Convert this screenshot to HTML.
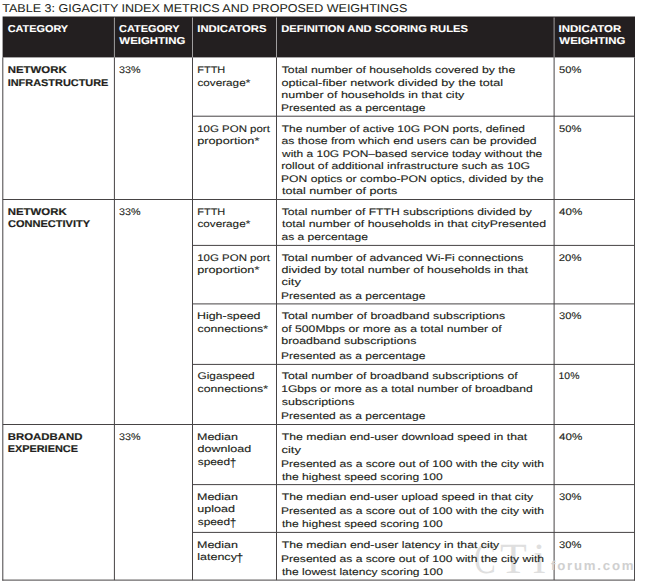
<!DOCTYPE html>
<html lang="en"><head><meta charset="utf-8"><title>Table 3: Gigacity Index metrics and proposed weightings</title>
<style>
html,body{margin:0;padding:0;background:#fff;}
body{width:650px;height:588px;position:relative;overflow:hidden;font-family:"Liberation Sans",sans-serif;color:#231f20;}
.b{position:absolute;}
.t{position:absolute;display:block;white-space:nowrap;line-height:normal;transform-origin:0 0;text-rendering:geometricPrecision;}
.title{font-size:11.3px;-webkit-text-stroke:0.05px #231f20;}
.hd{font-size:9.9px;font-weight:bold;color:#fff;-webkit-text-stroke:0.1px #fff;}
.cat{font-size:9.8px;font-weight:bold;-webkit-text-stroke:0.18px #231f20;}
.tx{font-size:9.6px;-webkit-text-stroke:0.12px #231f20;}
.dg{display:inline-block;font-size:12.4px;line-height:0;vertical-align:-2.2px;transform:scaleX(.78);transform-origin:0 50%;margin-right:-1.6px;}
.wm{position:absolute;white-space:nowrap;line-height:normal;transform-origin:0 0;text-rendering:geometricPrecision;}
</style></head>
<body>
<div class="b" style="left:2px;top:57px;width:1px;height:1px;background:rgba(70,67,68,0.42)"></div>
<div class="b" style="left:2px;top:58px;width:1px;height:522px;background:rgba(70,67,68,0.70)"></div>
<div class="b" style="left:2px;top:580px;width:1px;height:1px;background:rgba(70,67,68,0.42)"></div>
<div class="b" style="left:3px;top:57px;width:1px;height:1px;background:rgba(70,67,68,0.18)"></div>
<div class="b" style="left:3px;top:58px;width:1px;height:522px;background:rgba(70,67,68,0.30)"></div>
<div class="b" style="left:3px;top:580px;width:1px;height:1px;background:rgba(70,67,68,0.18)"></div>
<div class="b" style="left:634px;top:57px;width:1px;height:1px;background:rgba(70,67,68,0.57)"></div>
<div class="b" style="left:634px;top:58px;width:1px;height:522px;background:rgba(70,67,68,0.95)"></div>
<div class="b" style="left:634px;top:580px;width:1px;height:1px;background:rgba(70,67,68,0.57)"></div>
<div class="b" style="left:113px;top:58px;width:1px;height:522px;background:rgba(70,67,68,0.10)"></div>
<div class="b" style="left:114px;top:57px;width:1px;height:1px;background:rgba(70,67,68,0.54)"></div>
<div class="b" style="left:114px;top:58px;width:1px;height:522px;background:rgba(70,67,68,0.90)"></div>
<div class="b" style="left:114px;top:580px;width:1px;height:1px;background:rgba(70,67,68,0.09)"></div>
<div class="b" style="left:192px;top:57px;width:1px;height:1px;background:rgba(70,67,68,0.60)"></div>
<div class="b" style="left:192px;top:58px;width:1px;height:522px;background:rgb(70,67,68)"></div>
<div class="b" style="left:192px;top:580px;width:1px;height:1px;background:rgba(70,67,68,0.10)"></div>
<div class="b" style="left:276px;top:57px;width:1px;height:1px;background:rgba(70,67,68,0.60)"></div>
<div class="b" style="left:276px;top:58px;width:1px;height:522px;background:rgb(70,67,68)"></div>
<div class="b" style="left:276px;top:580px;width:1px;height:1px;background:rgba(70,67,68,0.10)"></div>
<div class="b" style="left:553px;top:57px;width:1px;height:1px;background:rgba(70,67,68,0.24)"></div>
<div class="b" style="left:553px;top:58px;width:1px;height:522px;background:rgba(70,67,68,0.40)"></div>
<div class="b" style="left:554px;top:57px;width:1px;height:1px;background:rgba(70,67,68,0.36)"></div>
<div class="b" style="left:554px;top:58px;width:1px;height:522px;background:rgba(70,67,68,0.60)"></div>
<div class="b" style="left:554px;top:580px;width:1px;height:1px;background:rgba(70,67,68,0.06)"></div>
<div class="b" style="left:2px;top:579px;width:1px;height:1px;background:rgba(70,67,68,0.28)"></div>
<div class="b" style="left:2px;top:580px;width:1px;height:1px;background:rgba(70,67,68,0.42)"></div>
<div class="b" style="left:3px;top:579px;width:631px;height:1px;background:rgba(70,67,68,0.40)"></div>
<div class="b" style="left:3px;top:580px;width:631px;height:1px;background:rgba(70,67,68,0.60)"></div>
<div class="b" style="left:634px;top:579px;width:1px;height:1px;background:rgba(70,67,68,0.38)"></div>
<div class="b" style="left:634px;top:580px;width:1px;height:1px;background:rgba(70,67,68,0.57)"></div>
<div class="b" style="left:192px;top:115px;width:1px;height:1px;background:rgba(70,67,68,0.15)"></div>
<div class="b" style="left:192px;top:116px;width:1px;height:1px;background:rgba(70,67,68,0.35)"></div>
<div class="b" style="left:193px;top:115px;width:441px;height:1px;background:rgba(70,67,68,0.30)"></div>
<div class="b" style="left:193px;top:116px;width:441px;height:1px;background:rgba(70,67,68,0.70)"></div>
<div class="b" style="left:634px;top:115px;width:1px;height:1px;background:rgba(70,67,68,0.14)"></div>
<div class="b" style="left:634px;top:116px;width:1px;height:1px;background:rgba(70,67,68,0.32)"></div>
<div class="b" style="left:2px;top:199px;width:1px;height:1px;background:rgba(70,67,68,0.20)"></div>
<div class="b" style="left:3px;top:199px;width:631px;height:1px;background:rgb(70,67,68)"></div>
<div class="b" style="left:634px;top:199px;width:1px;height:1px;background:rgba(70,67,68,0.45)"></div>
<div class="b" style="left:192px;top:245px;width:1px;height:1px;background:rgba(70,67,68,0.45)"></div>
<div class="b" style="left:193px;top:244px;width:441px;height:1px;background:rgba(70,67,68,0.10)"></div>
<div class="b" style="left:193px;top:245px;width:441px;height:1px;background:rgba(70,67,68,0.90)"></div>
<div class="b" style="left:634px;top:245px;width:1px;height:1px;background:rgba(70,67,68,0.41)"></div>
<div class="b" style="left:192px;top:303px;width:1px;height:1px;background:rgba(70,67,68,0.30)"></div>
<div class="b" style="left:192px;top:304px;width:1px;height:1px;background:rgba(70,67,68,0.20)"></div>
<div class="b" style="left:193px;top:303px;width:441px;height:1px;background:rgba(70,67,68,0.60)"></div>
<div class="b" style="left:193px;top:304px;width:441px;height:1px;background:rgba(70,67,68,0.40)"></div>
<div class="b" style="left:634px;top:303px;width:1px;height:1px;background:rgba(70,67,68,0.27)"></div>
<div class="b" style="left:634px;top:304px;width:1px;height:1px;background:rgba(70,67,68,0.18)"></div>
<div class="b" style="left:192px;top:364px;width:1px;height:1px;background:rgba(70,67,68,0.45)"></div>
<div class="b" style="left:193px;top:363px;width:441px;height:1px;background:rgba(70,67,68,0.10)"></div>
<div class="b" style="left:193px;top:364px;width:441px;height:1px;background:rgba(70,67,68,0.90)"></div>
<div class="b" style="left:634px;top:364px;width:1px;height:1px;background:rgba(70,67,68,0.41)"></div>
<div class="b" style="left:2px;top:424px;width:1px;height:1px;background:rgba(70,67,68,0.20)"></div>
<div class="b" style="left:3px;top:424px;width:631px;height:1px;background:rgb(70,67,68)"></div>
<div class="b" style="left:634px;top:424px;width:1px;height:1px;background:rgba(70,67,68,0.45)"></div>
<div class="b" style="left:192px;top:484px;width:1px;height:1px;background:rgba(70,67,68,0.45)"></div>
<div class="b" style="left:193px;top:484px;width:441px;height:1px;background:rgba(70,67,68,0.90)"></div>
<div class="b" style="left:193px;top:485px;width:441px;height:1px;background:rgba(70,67,68,0.10)"></div>
<div class="b" style="left:634px;top:484px;width:1px;height:1px;background:rgba(70,67,68,0.41)"></div>
<div class="b" style="left:192px;top:532px;width:1px;height:1px;background:rgba(70,67,68,0.45)"></div>
<div class="b" style="left:193px;top:531px;width:441px;height:1px;background:rgba(70,67,68,0.10)"></div>
<div class="b" style="left:193px;top:532px;width:441px;height:1px;background:rgba(70,67,68,0.90)"></div>
<div class="b" style="left:634px;top:532px;width:1px;height:1px;background:rgba(70,67,68,0.41)"></div>
<div class="b" style="left:2px;top:16px;width:1px;height:1px;background:rgba(35,31,32,0.20)"></div>
<div class="b" style="left:2px;top:17px;width:1px;height:40px;background:rgba(35,31,32,0.40)"></div>
<div class="b" style="left:2px;top:57px;width:1px;height:1px;background:rgba(35,31,32,0.16)"></div>
<div class="b" style="left:3px;top:16px;width:632px;height:1px;background:rgba(35,31,32,0.50)"></div>
<div class="b" style="left:3px;top:17px;width:632px;height:40px;background:rgb(35,31,32)"></div>
<div class="b" style="left:3px;top:57px;width:632px;height:1px;background:rgba(35,31,32,0.40)"></div>
<div class="b" style="left:113px;top:18px;width:1px;height:39px;background:rgba(160,158,159,0.10)"></div>
<div class="b" style="left:114px;top:17px;width:1px;height:1px;background:rgba(160,158,159,0.45)"></div>
<div class="b" style="left:114px;top:18px;width:1px;height:39px;background:rgba(160,158,159,0.90)"></div>
<div class="b" style="left:114px;top:57px;width:1px;height:1px;background:rgba(160,158,159,0.36)"></div>
<div class="b" style="left:192px;top:17px;width:1px;height:1px;background:rgba(160,158,159,0.50)"></div>
<div class="b" style="left:192px;top:18px;width:1px;height:39px;background:rgb(160,158,159)"></div>
<div class="b" style="left:192px;top:57px;width:1px;height:1px;background:rgba(160,158,159,0.40)"></div>
<div class="b" style="left:276px;top:17px;width:1px;height:1px;background:rgba(160,158,159,0.50)"></div>
<div class="b" style="left:276px;top:18px;width:1px;height:39px;background:rgb(160,158,159)"></div>
<div class="b" style="left:276px;top:57px;width:1px;height:1px;background:rgba(160,158,159,0.40)"></div>
<div class="b" style="left:553px;top:17px;width:1px;height:1px;background:rgba(160,158,159,0.20)"></div>
<div class="b" style="left:553px;top:18px;width:1px;height:39px;background:rgba(160,158,159,0.40)"></div>
<div class="b" style="left:553px;top:57px;width:1px;height:1px;background:rgba(160,158,159,0.16)"></div>
<div class="b" style="left:554px;top:17px;width:1px;height:1px;background:rgba(160,158,159,0.30)"></div>
<div class="b" style="left:554px;top:18px;width:1px;height:39px;background:rgba(160,158,159,0.60)"></div>
<div class="b" style="left:554px;top:57px;width:1px;height:1px;background:rgba(160,158,159,0.24)"></div>
<span class="wm" style="font-family:'Liberation Serif',serif;font-size:43px;color:#dfdfdf;top:535px;left:474px;transform:scaleX(.76)">C</span>
<span class="wm" style="font-family:'Liberation Serif',serif;font-size:43px;color:#dfdfdf;top:535px;left:500px;transform:scaleX(1.02)">T</span>
<span class="wm" style="font-family:'Liberation Serif',serif;font-size:43px;color:#dfdfdf;top:535px;left:533px;transform:scaleX(1.05)">i</span>
<span class="wm" style="left:551px;top:558px;font-size:13.2px;font-weight:bold;letter-spacing:1.8px;color:#d0d0d0;">forum.com</span>
<span class="t title" style="left:2px;top:3px;transform:translateX(0.30px) scaleX(1.1082)">TABLE 3: GIGACITY INDEX METRICS AND PROPOSED WEIGHTINGS</span>
<span class="t hd" style="left:7px;top:24px;transform:translateX(0.65px) scaleX(1.1025)">CATEGORY</span>
<span class="t hd" style="left:119px;top:24px;transform:translateX(0.10px) scaleX(1.1025)">CATEGORY</span>
<span class="t hd" style="left:119px;top:36px;transform:translateX(0.35px) scaleX(1.1566)">WEIGHTING</span>
<span class="t hd" style="left:197px;top:24px;transform:translateX(0.25px) scaleX(1.1425)">INDICATORS</span>
<span class="t hd" style="left:281px;top:24px;transform:translateX(0.25px) scaleX(1.1327)">DEFINITION AND SCORING RULES</span>
<span class="t hd" style="left:558px;top:24px;transform:translateX(0.60px) scaleX(1.1594)">INDICATOR</span>
<span class="t hd" style="left:559px;top:36px;transform:translateX(0.35px) scaleX(1.1566)">WEIGHTING</span>
<span class="t cat" style="left:7px;top:65px;transform:translateX(0.70px) scaleX(1.1644)">NETWORK</span>
<span class="t cat" style="left:7px;top:78px;transform:translateX(0.70px) scaleX(1.1146)">INFRASTRUCTURE</span>
<span class="t cat" style="left:7px;top:207px;transform:translateX(0.70px) scaleX(1.1644)">NETWORK</span>
<span class="t cat" style="left:7px;top:219px;transform:translateX(0.95px) scaleX(1.1270)">CONNECTIVITY</span>
<span class="t cat" style="left:7px;top:432px;transform:translateX(0.70px) scaleX(1.1630)">BROADBAND</span>
<span class="t cat" style="left:7px;top:444px;transform:translateX(0.70px) scaleX(1.1116)">EXPERIENCE</span>
<span class="t tx" style="left:118px;top:65px;transform:translateX(0.96px) scaleX(1.1191)">33%</span>
<span class="t tx" style="left:118px;top:207px;transform:translateX(0.96px) scaleX(1.1191)">33%</span>
<span class="t tx" style="left:118px;top:432px;transform:translateX(0.96px) scaleX(1.1191)">33%</span>
<span class="t tx" style="left:197px;top:65px;transform:translateX(0.23px) scaleX(1.1439)">FTTH</span>
<span class="t tx" style="left:197px;top:78px;transform:translateX(0.50px) scaleX(1.2197)">coverage*</span>
<span class="t tx" style="left:197px;top:124px;transform:translateX(0.25px) scaleX(1.1941)">10G PON port</span>
<span class="t tx" style="left:197px;top:136px;transform:translateX(0.25px) scaleX(1.3230)">proportion*</span>
<span class="t tx" style="left:197px;top:207px;transform:translateX(0.23px) scaleX(1.1439)">FTTH</span>
<span class="t tx" style="left:197px;top:219px;transform:translateX(0.50px) scaleX(1.2197)">coverage*</span>
<span class="t tx" style="left:197px;top:253px;transform:translateX(0.25px) scaleX(1.1941)">10G PON port</span>
<span class="t tx" style="left:197px;top:265px;transform:translateX(0.25px) scaleX(1.3230)">proportion*</span>
<span class="t tx" style="left:196px;top:311px;transform:translateX(0.99px) scaleX(1.2934)">High-speed</span>
<span class="t tx" style="left:197px;top:324px;transform:translateX(0.50px) scaleX(1.2832)">connections*</span>
<span class="t tx" style="left:197px;top:371px;transform:translateX(0.50px) scaleX(1.2316)">Gigaspeed</span>
<span class="t tx" style="left:197px;top:384px;transform:translateX(0.50px) scaleX(1.2832)">connections*</span>
<span class="t tx" style="left:196px;top:432px;transform:translateX(0.98px) scaleX(1.3024)">Median</span>
<span class="t tx" style="left:197px;top:444px;transform:translateX(0.50px) scaleX(1.3062)">download</span>
<span class="t tx" style="left:197px;top:457px;transform:translateX(0.75px) scaleX(1.2353)">speed<span class="dg">†</span></span>
<span class="t tx" style="left:196px;top:492px;transform:translateX(0.98px) scaleX(1.3024)">Median</span>
<span class="t tx" style="left:197px;top:504px;transform:translateX(0.24px) scaleX(1.3109)">upload</span>
<span class="t tx" style="left:197px;top:517px;transform:translateX(0.75px) scaleX(1.2353)">speed<span class="dg">†</span></span>
<span class="t tx" style="left:196px;top:540px;transform:translateX(0.98px) scaleX(1.3024)">Median</span>
<span class="t tx" style="left:197px;top:552px;transform:translateX(0.23px) scaleX(1.3046)">latency<span class="dg">†</span></span>
<span class="t tx" style="left:281px;top:65px;transform:translateX(0.75px) scaleX(1.2724)">Total number of households covered by the</span>
<span class="t tx" style="left:281px;top:78px;transform:translateX(0.50px) scaleX(1.3144)">optical-fiber network divided by the total</span>
<span class="t tx" style="left:281px;top:90px;transform:translateX(0.25px) scaleX(1.3005)">number of households in that city</span>
<span class="t tx" style="left:280px;top:103px;transform:translateX(1.00px) scaleX(1.2533)">Presented as a percentage</span>
<span class="t tx" style="left:281px;top:124px;transform:translateX(0.75px) scaleX(1.2460)">The number of active 10G PON ports, defined</span>
<span class="t tx" style="left:281px;top:136px;transform:translateX(0.50px) scaleX(1.2688)">as those from which end users can be provided</span>
<span class="t tx" style="left:282px;top:149px;transform:translateX(0.00px) scaleX(1.2449)">with a 10G PON–based service today without the</span>
<span class="t tx" style="left:281px;top:161px;transform:translateX(0.25px) scaleX(1.2715)">rollout of additional infrastructure such as 10G</span>
<span class="t tx" style="left:280px;top:174px;transform:translateX(1.00px) scaleX(1.2658)">PON optics or combo-PON optics, divided by the</span>
<span class="t tx" style="left:282px;top:186px;transform:translateX(0.00px) scaleX(1.3113)">total number of ports</span>
<span class="t tx" style="left:281px;top:207px;transform:translateX(0.75px) scaleX(1.2642)">Total number of FTTH subscriptions divided by</span>
<span class="t tx" style="left:282px;top:219px;transform:translateX(0.00px) scaleX(1.2857)">total number of households in that cityPresented</span>
<span class="t tx" style="left:281px;top:232px;transform:translateX(0.50px) scaleX(1.2549)">as a percentage</span>
<span class="t tx" style="left:281px;top:253px;transform:translateX(0.75px) scaleX(1.2765)">Total number of advanced Wi-Fi connections</span>
<span class="t tx" style="left:281px;top:265px;transform:translateX(0.50px) scaleX(1.2941)">divided by total number of households in that</span>
<span class="t tx" style="left:281px;top:277px;transform:translateX(0.51px) scaleX(1.3474)">city</span>
<span class="t tx" style="left:280px;top:291px;transform:translateX(1.00px) scaleX(1.2533)">Presented as a percentage</span>
<span class="t tx" style="left:281px;top:311px;transform:translateX(0.75px) scaleX(1.2886)">Total number of broadband subscriptions</span>
<span class="t tx" style="left:281px;top:324px;transform:translateX(0.50px) scaleX(1.2700)">of 500Mbps or more as a total number of</span>
<span class="t tx" style="left:281px;top:336px;transform:translateX(0.25px) scaleX(1.2927)">broadband subscriptions</span>
<span class="t tx" style="left:280px;top:351px;transform:translateX(1.00px) scaleX(1.2533)">Presented as a percentage</span>
<span class="t tx" style="left:281px;top:371px;transform:translateX(0.75px) scaleX(1.2823)">Total number of broadband subscriptions of</span>
<span class="t tx" style="left:281px;top:384px;transform:translateX(0.25px) scaleX(1.2568)">1Gbps or more as a total number of broadband</span>
<span class="t tx" style="left:281px;top:397px;transform:translateX(0.75px) scaleX(1.2973)">subscriptions</span>
<span class="t tx" style="left:280px;top:411px;transform:translateX(1.00px) scaleX(1.2533)">Presented as a percentage</span>
<span class="t tx" style="left:281px;top:432px;transform:translateX(0.75px) scaleX(1.2747)">The median end-user download speed in that</span>
<span class="t tx" style="left:281px;top:445px;transform:translateX(0.51px) scaleX(1.3474)">city</span>
<span class="t tx" style="left:280px;top:459px;transform:translateX(1.00px) scaleX(1.2613)">Presented as a score out of 100 with the city with</span>
<span class="t tx" style="left:282px;top:472px;transform:translateX(0.00px) scaleX(1.2545)">the highest speed scoring 100</span>
<span class="t tx" style="left:281px;top:492px;transform:translateX(0.75px) scaleX(1.2743)">The median end-user upload speed in that city</span>
<span class="t tx" style="left:280px;top:506px;transform:translateX(1.00px) scaleX(1.2613)">Presented as a score out of 100 with the city with</span>
<span class="t tx" style="left:282px;top:519px;transform:translateX(0.00px) scaleX(1.2545)">the highest speed scoring 100</span>
<span class="t tx" style="left:281px;top:540px;transform:translateX(0.75px) scaleX(1.2782)">The median end-user latency in that city</span>
<span class="t tx" style="left:280px;top:554px;transform:translateX(1.00px) scaleX(1.2613)">Presented as a score out of 100 with the city with</span>
<span class="t tx" style="left:282px;top:567px;transform:translateX(0.00px) scaleX(1.2518)">the lowest latency scoring 100</span>
<span class="t tx" style="left:559px;top:65px;transform:translateX(0.10px) scaleX(1.1610)">50%</span>
<span class="t tx" style="left:559px;top:124px;transform:translateX(0.10px) scaleX(1.1610)">50%</span>
<span class="t tx" style="left:559px;top:207px;transform:translateX(0.10px) scaleX(1.2079)">40%</span>
<span class="t tx" style="left:558px;top:253px;transform:translateX(0.85px) scaleX(1.1745)">20%</span>
<span class="t tx" style="left:559px;top:311px;transform:translateX(0.10px) scaleX(1.1610)">30%</span>
<span class="t tx" style="left:558px;top:371px;transform:translateX(0.59px) scaleX(1.0842)">10%</span>
<span class="t tx" style="left:559px;top:432px;transform:translateX(0.10px) scaleX(1.2079)">40%</span>
<span class="t tx" style="left:559px;top:492px;transform:translateX(0.10px) scaleX(1.1610)">30%</span>
<span class="t tx" style="left:559px;top:540px;transform:translateX(0.10px) scaleX(1.1610)">30%</span>
</body></html>
